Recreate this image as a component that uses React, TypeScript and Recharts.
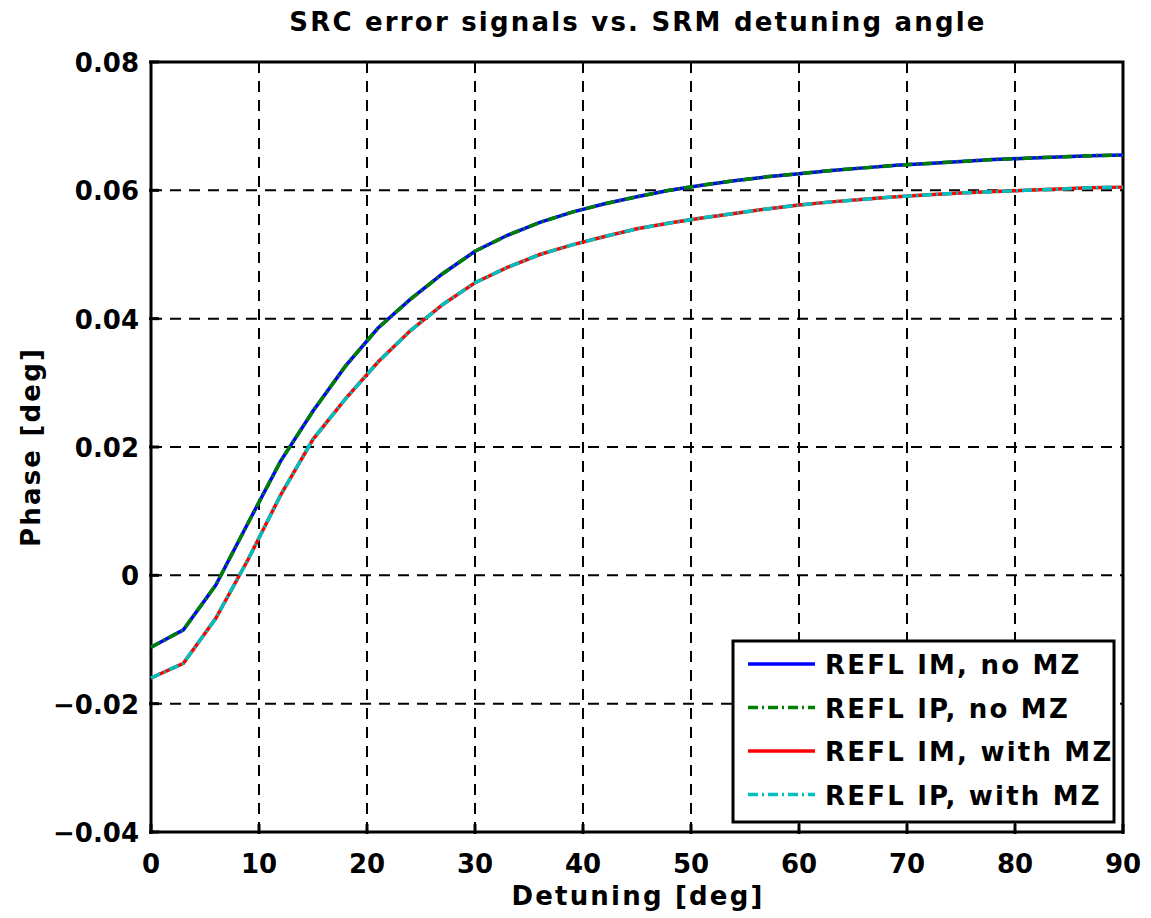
import React from "react";
import {
  LineChart,
  Line,
  XAxis,
  YAxis,
  CartesianGrid,
  ReferenceArea,
} from "recharts";

const FONT = "'DejaVu Sans', 'Liberation Sans', Arial, sans-serif";
const FS = 26;

const W = 1151;
const H = 918;

// detuning angle [deg]
const detuning = [
  0, 3, 6, 9, 12, 15, 18, 21, 24, 27, 30, 33, 36, 39, 42, 45, 48, 51, 54, 57,
  60, 63, 66, 69, 72, 75, 78, 81, 84, 87, 90,
];

// phase [deg], no MZ (IM and IP coincide)
const noMz = [
  -0.0112, -0.0085, -0.0015, 0.0082, 0.0178, 0.0256, 0.0326, 0.0385, 0.043,
  0.047, 0.0505, 0.053, 0.055, 0.0566, 0.0579, 0.059, 0.06, 0.0608, 0.0615,
  0.0621, 0.0626, 0.0631, 0.0635, 0.0639, 0.0642, 0.0645, 0.0648, 0.065,
  0.0652, 0.0654, 0.0655,
];

// phase [deg], with MZ (IM and IP coincide)
const withMz = [
  -0.016, -0.0137, -0.0067, 0.0025, 0.0125, 0.0212, 0.0275, 0.0332, 0.0381,
  0.0422, 0.0456, 0.048, 0.05, 0.0515, 0.0528, 0.054, 0.0549, 0.0557, 0.0564,
  0.0571, 0.0577, 0.0582, 0.0586, 0.059, 0.0593, 0.0596, 0.0598, 0.06, 0.0602,
  0.0604, 0.0605,
];

const xTicks = [0, 10, 20, 30, 40, 50, 60, 70, 80, 90];
const yTicks = [-0.04, -0.02, 0, 0.02, 0.04, 0.06, 0.08];
const yTickLabels = ["\u22120.04", "\u22120.02", "0", "0.02", "0.04", "0.06", "0.08"];

const series = [
  { key: "imNo", name: "REFL IM, no MZ", color: "#0000ff", dash: undefined },
  { key: "ipNo", name: "REFL IP, no MZ", color: "#008000", dash: "10 4 2 4" },
  { key: "imWith", name: "REFL IM, with MZ", color: "#ff0000", dash: undefined },
  { key: "ipWith", name: "REFL IP, with MZ", color: "#00bfbf", dash: "10 4 2 4" },
];

const data = detuning.map((d, i) => ({
  x: d,
  imNo: noMz[i],
  ipNo: noMz[i],
  imWith: withMz[i],
  ipWith: withMz[i],
}));

const tickStyle = {
  fontFamily: FONT,
  fontWeight: "bold" as const,
  fontSize: FS,
  fill: "#000",
};

// title, axis labels and legend are a bit more spread out
const textStyle = { ...tickStyle, letterSpacing: 2.2 };

const BottomTick = (props: any) => {
  const { x, y, payload } = props;
  return (
    <g>
      <line x1={x} x2={x} y1={y} y2={y - 10} stroke="#000" strokeWidth={3} />
      <text x={x} y={y + 39} textAnchor="middle" style={tickStyle}>
        {payload.value}
      </text>
    </g>
  );
};

const TopTick = (props: any) => {
  const { x, y } = props;
  return <line x1={x} x2={x} y1={y} y2={y + 10} stroke="#000" strokeWidth={3} />;
};

const LeftTick = (props: any) => {
  const { x, y, payload } = props;
  const idx = yTicks.findIndex((t) => Math.abs(t - payload.value) < 1e-9);
  return (
    <g>
      <line x1={x} x2={x + 10} y1={y} y2={y} stroke="#000" strokeWidth={3} />
      <text x={x - 10} y={y + 10} textAnchor="end" style={tickStyle}>
        {yTickLabels[idx]}
      </text>
    </g>
  );
};

const RightTick = (props: any) => {
  const { x, y } = props;
  return <line x1={x} x2={x - 10} y1={y} y2={y} stroke="#000" strokeWidth={3} />;
};

export default function App() {
  return (
    <div style={{ position: "absolute", left: 0, top: 0, width: W, height: H, background: "#fff" }}>
      <LineChart
        width={W}
        height={H}
        data={data}
        margin={{ top: 62, right: 28, bottom: 0, left: 0 }}
      >
        <CartesianGrid
          stroke="#000"
          strokeWidth={2}
          strokeDasharray="11 8"
          horizontalValues={yTicks}
          verticalValues={xTicks}
        />
        <XAxis
          dataKey="x"
          type="number"
          domain={[0, 90]}
          ticks={xTicks}
          height={86}
          tickSize={0}
          tickLine={false}
          axisLine={false}
          tick={BottomTick}
          interval={0}
        />
        <XAxis
          xAxisId="top"
          orientation="top"
          dataKey="x"
          type="number"
          domain={[0, 90]}
          ticks={xTicks}
          height={0}
          tickSize={0}
          tickLine={false}
          axisLine={false}
          tick={TopTick}
          interval={0}
        />
        <YAxis
          type="number"
          domain={[-0.04, 0.08]}
          ticks={yTicks}
          width={151}
          tickSize={0}
          tickLine={false}
          axisLine={false}
          tick={LeftTick}
          interval={0}
        />
        <YAxis
          yAxisId="right"
          orientation="right"
          type="number"
          domain={[-0.04, 0.08]}
          ticks={yTicks}
          width={0}
          tickSize={0}
          tickLine={false}
          axisLine={false}
          tick={RightTick}
          interval={0}
        />
        <ReferenceArea
          x1={0}
          x2={90}
          y1={-0.04}
          y2={0.08}
          fill="none"
          fillOpacity={0}
          stroke="#000"
          strokeWidth={3}
          ifOverflow="visible"
        />
        {series.map((s) => (
          <Line
            key={s.key}
            type="linear"
            dataKey={s.key}
            name={s.name}
            stroke={s.color}
            strokeWidth={3.5}
            strokeDasharray={s.dash}
            dot={false}
            activeDot={false}
            isAnimationActive={false}
          />
        ))}
      </LineChart>
      <svg
        width={W}
        height={H}
        style={{ position: "absolute", left: 0, top: 0, pointerEvents: "none" }}
      >
        <text x={638} y={31} textAnchor="middle" style={textStyle}>
          SRC error signals vs. SRM detuning angle
        </text>
        <text x={638} y={905} textAnchor="middle" style={textStyle}>
          Detuning [deg]
        </text>
        <text
          x={40}
          y={447}
          textAnchor="middle"
          transform="rotate(-90 40 447)"
          style={textStyle}
        >
          Phase [deg]
        </text>
        <rect x={733} y={641} width={381} height={181} fill="#fff" stroke="#000" strokeWidth={3} />
        {series.map((s, i) => {
          const cy = 664 + i * 43.5;
          return (
            <g key={s.key}>
              <line
                x1={748}
                x2={815}
                y1={cy}
                y2={cy}
                stroke={s.color}
                strokeWidth={3.5}
                strokeDasharray={s.dash}
              />
              <text x={825} y={cy + 10} style={textStyle}>
                {s.name}
              </text>
            </g>
          );
        })}
      </svg>
    </div>
  );
}
